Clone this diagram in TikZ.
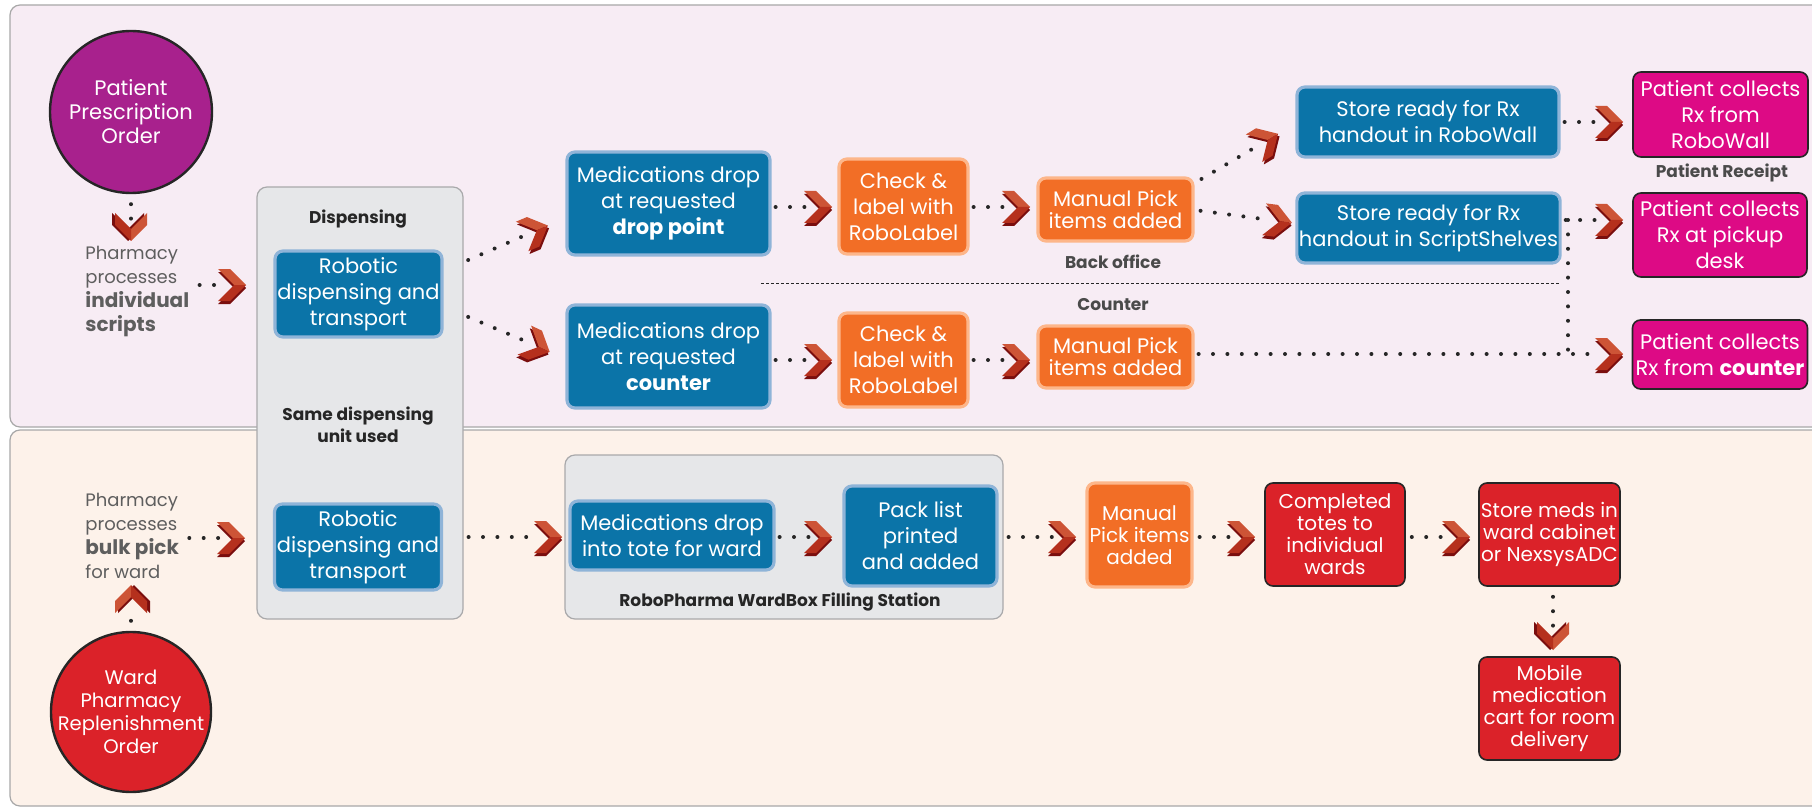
\documentclass[tikz,border=0pt]{standalone}
\usepackage{fontspec}
\setmainfont{Poppins}
\definecolor{topbg}{HTML}{F7ECF4}
\definecolor{botbg}{HTML}{FDF2EA}
\definecolor{panelline}{HTML}{A8A8A8}
\definecolor{unitgray}{HTML}{E6E7E9}
\definecolor{unitline}{HTML}{A9A9AB}
\definecolor{blueface}{HTML}{0B74A8}
\definecolor{blueedge}{HTML}{8FB4D8}
\definecolor{orangeface}{HTML}{F26E26}
\definecolor{orangeedge}{HTML}{FDB68A}
\definecolor{pinkface}{HTML}{DD0A85}
\definecolor{redface}{HTML}{DB2229}
\definecolor{purpleface}{HTML}{A8218D}
\definecolor{darkedge}{HTML}{262626}
\definecolor{notegray}{HTML}{5E5E5E}
\definecolor{taggray}{HTML}{4A4A4A}
\definecolor{chevlight}{HTML}{CD5436}
\definecolor{chevmid}{HTML}{B5301D}
\definecolor{chevdark}{HTML}{7A0E0E}
\newcommand\bignote[1]{{\fontsize{10}{12}\selectfont\bfseries #1}}

\begin{document}
\begin{tikzpicture}[x=0.5pt, y=-0.5pt]
\tikzset{
  panel/.style = {draw=panelline, line width=0.6pt, rounded corners=5pt},
  unit/.style = {draw=unitline, fill=unitgray, line width=0.6pt, rounded corners=5pt},
  box/.style = {rounded corners=4pt, text=white, align=center, inner sep=1pt, font=\fontsize{10.5}{13}\selectfont},
  blue box/.style = {box, draw=blueedge, fill=blueface, line width=1.6pt},
  orange box/.style = {box, draw=orangeedge, fill=orangeface, line width=1.6pt},
  pink box/.style = {box, draw=darkedge, fill=pinkface, line width=0.8pt},
  red box/.style = {box, draw=darkedge, fill=redface, line width=0.8pt, font=\fontsize{10}{11}\selectfont},
  order/.style = {circle, draw=darkedge, line width=1.2pt, inner sep=0pt},
  order text/.style = {text=white, align=center, font=\fontsize{10.5}{12}\selectfont},
  note/.style = {anchor=west, align=left, text=notegray, inner sep=0pt, font=\fontsize{9}{12}\selectfont},
  tag/.style = {text=taggray, align=center, inner sep=0pt, font=\fontsize{8.5}{11}\selectfont\bfseries},
  dots/.style = {draw=darkedge, line width=2pt, line cap=round, dash pattern=on 0pt off 7.2pt},
  divider/.style = {draw=darkedge, line width=0.5pt, dash pattern=on 1.5pt off 1pt},
  chev/.pic = {
    \fill[chevdark] (-14,-13) -- (-2,-13) -- (14,3) -- (-2,19) -- (-14,19) -- (2,3) -- cycle;
    \fill[chevlight] (-14,-16) -- (-2,-16) -- (14,0) -- (2,0) -- cycle;
    \fill[chevmid] (2,0) -- (14,0) -- (-2,16) -- (-14,16) -- cycle;
  }
}
\useasboundingbox (0,0) rectangle (1812,808);
\clip (0,0) rectangle (1812,808);

% lanes
\draw[panel, fill=topbg] (10,5) rectangle (1830,427);
\draw[panel, fill=botbg] (10,430) rectangle (1830,806);

\node[unit, minimum width=103pt, minimum height=216pt] (disp) at (360,403) {};
\node[unit, minimum width=219pt, minimum height=82pt] (wbox) at (784,537) {};

% orders
\node[order, fill=purpleface, minimum size=81pt,
  label={[order text]center:Patient\\Prescription\\Order}] (po) at (131,112) {};
\node[order, fill=redface, minimum size=80pt,
  label={[order text, font=\fontsize{9.8}{11.5}\selectfont]center:Ward\\Pharmacy\\Replenishment\\Order}] (wo) at (131,712) {};

\node[note] (ph1) at (85,291) {Pharmacy\\processes\\\bignote{individual}\\\bignote{scripts}};
\node[note] (ph2) at (85,536) {Pharmacy\\processes\\\bignote{bulk pick}\\for ward};

\node[tag, text=darkedge] (disptag) at (358,219) {Dispensing};
\node[tag, text=darkedge] (sametag) at (358,425) {Same dispensing\\unit used};
\node[tag, text=darkedge] (wtag) at (780,602) {RoboPharma WardBox Filling Station};
\node[tag] (back) at (1113,262) {Back office};
\node[tag] (ctr) at (1113,305) {Counter};
\node[tag] (rcpt) at (1722,173) {Patient Receipt};

% patient scripts
\node[blue box, minimum width=83.5pt, minimum height=43pt] (rob1) at (358.5,294) {Robotic\\dispensing and\\transport};
\node[blue box, minimum width=101.5pt, minimum height=51.5pt] (dropA) at (668.5,203.5) {Medications drop\\at requested\\\textbf{drop point}};
\node[blue box, minimum width=101.5pt, minimum height=51.5pt] (dropB) at (668.5,356.5) {Medications drop\\at requested\\\textbf{counter}};
\node[orange box, minimum width=64.5pt, minimum height=47.5pt] (chkA) at (903.5,206.5) {Check \&\\label with\\RoboLabel};
\node[orange box, minimum width=64.5pt, minimum height=47pt] (chkB) at (903.5,360) {Check \&\\label with\\RoboLabel};
\node[orange box, minimum width=77.5pt, minimum height=31.5pt, font=\fontsize{10.5}{11}\selectfont] (manA) at (1115.5,209.5) {Manual Pick\\items added};
\node[orange box, minimum width=77.5pt, minimum height=31pt, font=\fontsize{10.5}{11}\selectfont] (manB) at (1115.5,357) {Manual Pick\\items added};
\node[blue box, minimum width=131pt, minimum height=35pt] (wallS) at (1428,122) {Store ready for Rx\\handout in RoboWall};
\node[blue box, minimum width=131.5pt, minimum height=35pt] (shelfS) at (1428.5,228) {Store ready for Rx\\handout in ScriptShelves};
\node[pink box, minimum width=87.5pt, minimum height=42.5pt] (colA) at (1720.5,114.5) {Patient collects\\Rx from\\RoboWall};
\node[pink box, minimum width=87pt, minimum height=42pt] (colB) at (1720,235) {Patient collects\\Rx at pickup\\desk};
\node[pink box, minimum width=87.5pt, minimum height=34.5pt] (colC) at (1720,354.5) {Patient collects\\Rx from \textbf{counter}};

% ward replenishment
\node[blue box, minimum width=83.5pt, minimum height=43pt] (rob2) at (358,547) {Robotic\\dispensing and\\transport};
\node[blue box, minimum width=102pt, minimum height=34.5pt] (tote) at (672,535.5) {Medications drop\\into tote for ward};
\node[blue box, minimum width=76.5pt, minimum height=50pt] (pack) at (920.5,536) {Pack list\\printed\\and added};
\node[orange box, minimum width=52.5pt, minimum height=52pt, font=\fontsize{10}{11}\selectfont] (manC) at (1139.5,535) {Manual\\Pick items\\added};
\node[red box, minimum width=70pt, minimum height=51.5pt] (totes) at (1335,534.5) {Completed\\totes to\\individual\\wards};
\node[red box, minimum width=70.5pt, minimum height=51.5pt] (cab) at (1549.5,534.5) {Store meds in\\ward cabinet\\or NexsysADC};
\node[red box, minimum width=70.5pt, minimum height=51.5pt] (cart) at (1549.5,708.5) {Mobile\\medication\\cart for room\\delivery};

\draw[divider] (761,283) -- (1560,283);

% chevron spots
\coordinate (v1) at (131,227);
\coordinate (h1) at (232,285);
\coordinate (d1) at (535,231);
\coordinate (d2) at (537,346);
\coordinate (r1) at (818,207);
\coordinate (r2) at (1016,207);
\coordinate (r3) at (818,360);
\coordinate (r4) at (1016,360);
\coordinate (w1) at (1266,141);
\coordinate (w2) at (1278,221);
\coordinate (p1) at (1609,122);
\coordinate (p2) at (1609,220);
\coordinate (p3) at (1609,354);
\coordinate (jn) at (1568,354);
\coordinate (u1) at (131,599);
\coordinate (h2) at (231,538);
\coordinate (h3) at (548,537);
\coordinate (h4) at (818,537);
\coordinate (h5) at (1062,537);
\coordinate (h6) at (1241,537);
\coordinate (h7) at (1456,537);
\coordinate (v2) at (1553,636);

\draw[dots, shorten <=5pt, shorten >=4pt] (po.south) -- (v1);
\draw[dots, shorten <=5pt, shorten >=4pt] (ph1.east |- h1) -- (h1);
\draw[dots, shorten <=2.5pt, shorten >=4pt] (disp.east |- 0,262) -- (d1);
\draw[dots, shorten <=2.5pt, shorten >=4pt] (disp.east |- 0,315) -- (d2);
\draw[dots, shorten <=2pt, shorten >=4pt] (dropA.east |- r1) -- (r1);
\draw[dots, shorten <=2pt, shorten >=4pt] (chkA.east |- r2) -- (r2);
\draw[dots, shorten <=2pt, shorten >=4pt] (dropB.east |- r3) -- (r3);
\draw[dots, shorten <=2pt, shorten >=4pt] (chkB.east |- r4) -- (r4);
\draw[dots, shorten <=4pt, shorten >=4pt] (manA.east |- 0,183) -- (w1);
\draw[dots, shorten <=3pt, shorten >=4pt] (manA.east |- 0,210) -- (w2);
\draw[dots, shorten <=2pt, shorten >=4pt] (wallS.east |- p1) -- (p1);
\draw[dots, shorten <=2pt, shorten >=4pt] (shelfS.east |- p2) -- (p2);
\draw[dots] (p2 -| jn) -- (jn);
\draw[dots, shorten <=2pt, shorten >=4pt] (manB.east |- p3) -- (p3);

\draw[dots, shorten <=5pt, shorten >=4pt] (wo.north) -- (u1);
\draw[dots, shorten <=5pt, shorten >=4pt] (ph2.east |- h2) -- (h2);
\draw[dots, shorten <=2.5pt, shorten >=4pt] (disp.east |- h3) -- (h3);
\draw[dots, shorten <=2pt, shorten >=4pt] (tote.east |- h4) -- (h4);
\draw[dots, shorten <=5pt, shorten >=4pt] (pack.east |- h5) -- (h5);
\draw[dots, shorten <=3pt, shorten >=4pt] (manC.east |- h6) -- (h6);
\draw[dots, shorten <=3pt, shorten >=4pt] (totes.east |- h7) -- (h7);
\draw[dots, shorten <=5pt, shorten >=4pt] (cab.south -| v2) -- (v2);

\foreach \spot/\turn in {v1/-90, h1/0, d1/23, d2/-25, r1/0, r2/0, r3/0, r4/0, w1/31, w2/-7, p1/0, p2/0, p3/0,
  u1/90, h2/0, h3/0, h4/0, h5/0, h6/0, h7/0, v2/-90}
  \pic[rotate=\turn] at (\spot) {chev};
\end{tikzpicture}
\end{document}
